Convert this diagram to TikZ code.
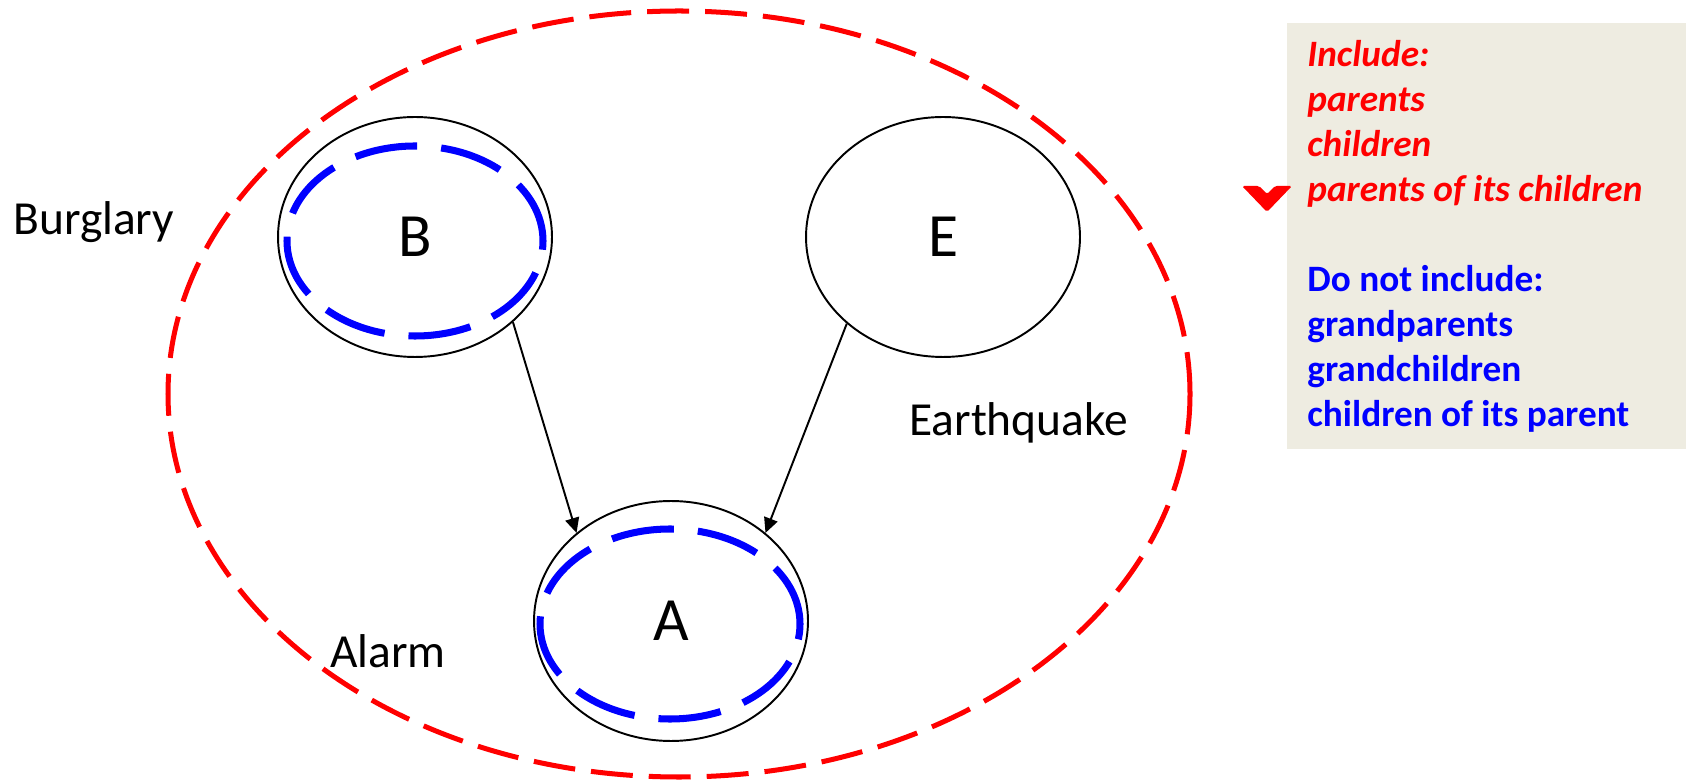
\documentclass[tikz,border=0pt]{standalone}
\usepackage{fontspec}
\setmainfont{Carlito}
\usetikzlibrary{arrows.meta,shapes.geometric}
\definecolor{notebg}{HTML}{EEECE1}
\begin{document}
\begin{tikzpicture}[x=0.02cm,y=0.02cm,
  var/.style={draw,ellipse,line width=1.1pt,inner sep=0pt,
    minimum width=5.48cm,minimum height=4.8cm,font=\fontsize{35}{40}\selectfont},
  label/.style={anchor=base west,inner sep=0pt,font=\fontsize{27}{30}\selectfont},
  blanket/.style={red,line width=2.85pt,dash pattern=on 23.9pt off 9.1pt},
  keep/.style={blue,line width=4pt,dash pattern=on 35.8pt off 13.7pt},
  link/.style={line width=1.1pt,-{Triangle[length=8.5pt,width=8pt]}},
  incl/.style={anchor=base west,inner sep=0pt,red,font=\fontsize{21.2}{25}\selectfont\bfseries\itshape},
  excl/.style={anchor=base west,inner sep=0pt,blue,font=\fontsize{21.2}{25}\selectfont\bfseries}]
  \useasboundingbox (0,0) rectangle (1686,781);
  % markov blanket
  \draw[blanket] (679,387) ellipse [x radius=511, y radius=383];
  \node[var] (B) at (415,544) {B};
  \node[var] (E) at (943,544) {E};
  \node[var] (A) at (671,160) {A};
  \draw[keep] (B.center) ++(0,-4) ellipse [x radius=128, y radius=95];
  \draw[keep] (A.center) ++(-1,-3) ellipse [x radius=130, y radius=95];
  \draw[link] (B.-41) -- (A.137);
  \draw[link] (E.-138) -- (A.43);
  \node[label] (burglary) at (13,546) {Burglary};
  \node[label] (earthquake) at (909,345) {Earthquake};
  \node[label] (alarm) at (330,114) {Alarm};
  % note
  \fill[notebg] (1287,332) rectangle (1686,758);
  \fill[red,rounded corners=1pt] (1242,595) -- (1259,595) -- (1267,587) -- (1275,595)
    -- (1292,595) -- (1267,569) -- cycle;
  \foreach \txt [count=\i] in {Include:,parents,children,parents of its children}
    \node[incl] (in\i) at (1307,759-45*\i) {\txt};
  \foreach \txt [count=\i] in {Do not include:,grandparents,grandchildren,children of its parent}
    \node[excl] (out\i) at (1307,534-45*\i) {\txt};
\end{tikzpicture}
\end{document}
